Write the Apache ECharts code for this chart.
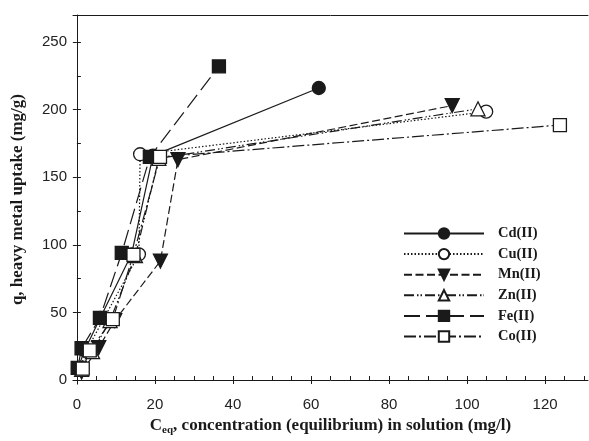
<!DOCTYPE html>
<html style="height: 100%">
<head>
  <meta charset="utf-8" />
  <title>Heavy metal uptake</title>
  <script src="https://cdn.jsdelivr.net/npm/echarts@6.0.0/dist/echarts.min.js"></script>
</head>
<body style="height: 100%; margin: 0; background: #fff">
  <div id="chart" style="width: 589px; height: 441px"></div>
  <script>
    // values: C_eq (mg/l) and q (mg/g)
    const cdX = [0.3, 2, 6, 14, 19.5, 62];
    const cdY = [9, 22, 46, 93, 166, 216];
    const cuX = [0.8, 2.5, 7, 15.9, 16.2, 104.9];
    const cuY = [9, 22, 46, 93, 167, 198.5];
    const mnX = [1.2, 5.6, 9.7, 21.4, 25.9, 96.2];
    const mnY = [6, 24, 44, 88, 163, 203];
    const znX = [1.2, 4, 8.5, 15, 21, 102.8];
    const znY = [8, 21, 44, 92, 164, 200.6];
    const feX = [0.2, 1.2, 5.9, 11.5, 18.7, 36.4];
    const feY = [9, 23.5, 46, 94, 165, 232];
    const coX = [1.5, 3.3, 9.2, 14.5, 21.3, 123.8];
    const coY = [8.5, 22, 45, 92.6, 165, 188.6];

    const xLabels = [0, 20, 40, 60, 80, 100, 120];
    const yLabels = [0, 50, 100, 150, 200, 250];
    const xMinor = [];
    for (let v = 0; v <= 130; v += 5) xMinor.push(v);
    const yMinor = [];
    for (let v = 0; v <= 270; v += 25) yMinor.push(v);

    const ink = '#1a1a1a';
    const pair = (xs, ys) => xs.map((x, i) => [x, ys[i]]);

    function line(name, xs, ys, symbol, filled, dash, extra) {
      return Object.assign({
        name: name,
        type: 'line',
        data: pair(xs, ys),
        symbol: symbol,
        symbolSize: 13,
        clip: false,
        lineStyle: { color: ink, width: 1.2, type: dash },
        itemStyle: { color: filled ? ink : '#fff', borderColor: ink, borderWidth: 1.3 }
      }, extra || {});
    }

    var chart = echarts.init(document.getElementById('chart'));
    chart.setOption({
      backgroundColor: '#fff',
      animation: false,
      grid: { left: 73, top: 15, width: 515, height: 372 },
      legend: {
        orient: 'vertical',
        left: 398,
        top: 221,
        itemWidth: 80,
        itemHeight: 13,
        itemGap: 5.6,
        textStyle: {
          fontFamily: 'Liberation Serif', fontWeight: 'bold', fontSize: 14.5,
          color: ink, padding: [0, 0, 0, 9]
        },
        data: ['Cd(II)', 'Cu(II)', 'Mn(II)', 'Zn(II)', 'Fe(II)', 'Co(II)']
      },
      xAxis: [
        {
          type: 'value', min: -1, max: 131, position: 'bottom',
          axisLine: { onZero: true, lineStyle: { color: ink, width: 1 } },
          axisTick: { customValues: xMinor, inside: true, length: 4, lineStyle: { color: ink } },
          axisLabel: {
            customValues: xLabels, margin: 13, fontSize: 15,
            fontFamily: 'Liberation Sans', color: '#222'
          },
          splitLine: { show: false },
          name: '{b|C}{s|eq}{b|, concentration (equilibrium) in solution (mg/l)}',
          nameLocation: 'middle',
          nameGap: 29,
          nameTextStyle: {
            rich: {
              b: { fontFamily: 'Liberation Serif', fontWeight: 'bold', fontSize: 17, color: ink },
              s: { fontFamily: 'Liberation Serif', fontWeight: 'bold', fontSize: 11, color: ink, padding: [10, 0, 0, 0] }
            }
          }
        },
        {
          type: 'value', min: -1, max: 131, position: 'bottom',
          axisLine: { show: false, onZero: true },
          axisTick: { customValues: xLabels, inside: false, length: 4, lineStyle: { color: ink } },
          axisLabel: { show: false },
          splitLine: { show: false }
        },
        {
          type: 'value', min: -1, max: 131, position: 'top',
          axisLine: { onZero: false, lineStyle: { color: ink, width: 1 } },
          axisTick: { show: false },
          axisLabel: { show: false },
          splitLine: { show: false }
        }
      ],
      yAxis: [
        {
          type: 'value', min: -3, max: 270, position: 'left',
          axisLine: { onZero: true, lineStyle: { color: ink, width: 1 } },
          axisTick: { customValues: yMinor, inside: true, length: 4, lineStyle: { color: ink } },
          axisLabel: {
            customValues: yLabels, margin: 6, fontSize: 15,
            fontFamily: 'Liberation Sans', color: '#222'
          },
          splitLine: { show: false },
          name: 'q, heavy metal uptake (mg/g)',
          nameLocation: 'middle',
          nameGap: 47,
          nameTextStyle: { fontFamily: 'Liberation Serif', fontWeight: 'bold', fontSize: 17, color: ink }
        },
        {
          type: 'value', min: -3, max: 270, position: 'left',
          axisLine: { show: false, onZero: true },
          axisTick: { customValues: yLabels, inside: false, length: 4, lineStyle: { color: ink } },
          axisLabel: { show: false },
          splitLine: { show: false }
        }
      ],
      series: [
        line('Cd(II)', cdX, cdY, 'circle', true, 'solid'),
        line('Cu(II)', cuX, cuY, 'circle', false, [1.5, 2]),
        line('Mn(II)', mnX, mnY, 'triangle', true, [8, 3.5], { symbolRotate: 180, symbolSize: 14 }),
        line('Zn(II)', znX, znY, 'triangle', false, [10, 3, 1.5, 2, 1.5, 3], { symbolSize: 14 }),
        line('Fe(II)', feX, feY, 'rect', true, [16, 6], { symbolSize: 13 }),
        line('Co(II)', coX, coY, 'rect', false, [12, 3, 2, 3], { symbolSize: 13 })
      ]
    });
  </script>
</body>
</html>
